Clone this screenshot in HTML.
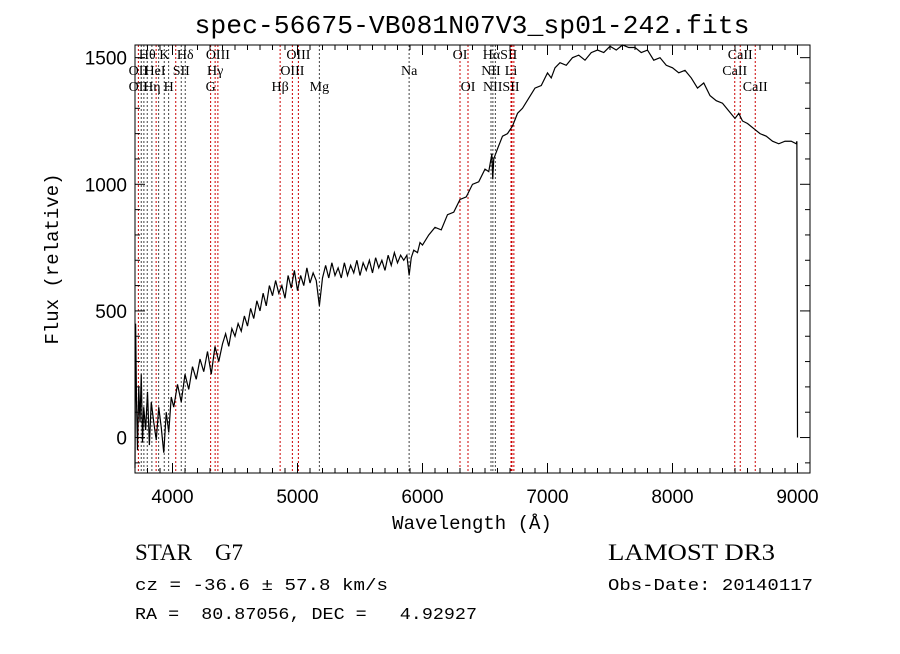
<!DOCTYPE html>
<html><head><meta charset="utf-8"><style>
body{margin:0;background:#fff;width:900px;height:649px;overflow:hidden}
svg text{fill:#000}
</style></head><body>
<svg id="c" width="900" height="649" viewBox="0 0 900 649" xmlns="http://www.w3.org/2000/svg">
<text x="472" y="33" font-family="Liberation Mono, monospace" font-size="26" text-anchor="middle" textLength="555" lengthAdjust="spacingAndGlyphs">spec-56675-VB081N07V3_sp01-242.fits</text>
<text transform="translate(58,259) rotate(-90)" font-family="Liberation Mono, monospace" font-size="19" text-anchor="middle">Flux (relative)</text>
<text x="472" y="529" font-family="Liberation Mono, monospace" font-size="19" text-anchor="middle">Wavelength (Å)</text>
<g id="lines"></g><g id="ax"></g><g id="spec"></g>
<text x="135" y="560" font-family="Liberation Serif, serif" font-size="23" xml:space="preserve" style="white-space:pre">STAR    G7</text>
<text x="135" y="590" font-family="Liberation Mono, monospace" font-size="17" textLength="253" lengthAdjust="spacingAndGlyphs">cz = -36.6 ± 57.8 km/s</text>
<text x="135" y="619" font-family="Liberation Mono, monospace" font-size="17" xml:space="preserve" style="white-space:pre" textLength="342" lengthAdjust="spacingAndGlyphs">RA =  80.87056, DEC =   4.92927</text>
<text x="608" y="560" font-family="Liberation Serif, serif" font-size="23" textLength="167" lengthAdjust="spacingAndGlyphs">LAMOST DR3</text>
<text x="608" y="590" font-family="Liberation Mono, monospace" font-size="17" textLength="205" lengthAdjust="spacingAndGlyphs">Obs-Date: 20140117</text>
</svg>
<script>
const wave=[3700,3705,3712,3720,3730,3740,3750,3760,3770,3785,3800,3815,3830,3850,3870,3890,3910,3930,3950,3970,3990,4010,4040,4070,4100,4130,4160,4190,4220,4250,4280,4310,4340,4370,4400,4425,4450,4475,4500,4525,4550,4575,4600,4625,4650,4675,4700,4725,4750,4775,4800,4825,4850,4875,4900,4925,4950,4975,5000,5025,5050,5075,5100,5125,5150,5175,5200,5225,5250,5275,5300,5325,5350,5375,5400,5425,5450,5475,5500,5525,5550,5575,5600,5625,5650,5675,5700,5725,5750,5775,5800,5825,5850,5875,5893,5910,5930,5960,5980,6000,6050,6100,6150,6200,6250,6300,6350,6400,6450,6500,6530,6555,6562,6570,6600,6640,6680,6720,6760,6800,6850,6900,6950,7000,7030,7060,7100,7150,7200,7250,7300,7350,7400,7450,7500,7550,7600,7650,7700,7750,7800,7850,7900,7950,8000,8050,8100,8150,8200,8250,8300,8350,8400,8450,8500,8530,8560,8600,8650,8700,8750,8800,8850,8900,8950,8990,8995,9000];
const flux=[-120,450,150,-50,200,60,250,-20,120,30,180,-30,140,60,-10,120,40,-60,100,20,160,120,210,140,250,190,280,230,310,260,340,250,360,300,370,410,360,430,400,450,420,480,440,510,470,540,500,570,520,600,560,620,570,600,550,640,590,660,580,640,600,670,610,650,620,520,630,680,630,690,640,670,630,690,640,680,650,700,640,690,660,700,650,710,670,700,660,720,680,730,690,720,700,720,640,710,740,730,770,760,800,830,820,880,890,940,950,1000,1010,1060,1050,1120,1020,1100,1140,1190,1200,1230,1280,1300,1340,1380,1390,1440,1420,1460,1480,1470,1500,1510,1490,1520,1530,1520,1545,1530,1550,1540,1540,1520,1530,1490,1500,1470,1460,1440,1450,1420,1380,1400,1350,1330,1320,1290,1260,1280,1250,1240,1220,1200,1190,1170,1160,1170,1170,1160,1170,0];
const lineWave=[3727,3750,3771,3798,3835,3869,3889,3934,3969,4026,4070,4102,4305,4341,4363,4861,4959,5007,5175,5893,6300,6364,6548,6563,6583,6708,6716,6731,8498,8542,8662];
const lineBlack=[0,1,1,1,1,0,1,1,1,0,1,1,0,0,0,0,0,0,1,1,0,0,1,1,1,0,0,0,0,0,0];
const labels=[["Hθ",3798,1],["K",3934,1],["Hδ",4102,1],["OIII",4363,1],["OIII",5007,1],["OI",6300,1],["HαSII",6620,1],["CaII",8542,1],["OII",3727,2],["HeI",3860,2],["SII",4070,2],["Hγ",4341,2],["OIII",4959,2],["Na",5893,2],["NII",6548,2],["Li",6708,2],["CaII",8498,2],["OII",3727,3],["Hη",3835,3],["H",3969,3],["G",4305,3],["Hβ",4861,3],["Mg",5175,3],["OI",6364,3],["NIISII",6630,3],["CaII",8662,3]];
const xTicks=[4000,5000,6000,7000,8000,9000];
const yTicks=[0,500,1000,1500];
const X0=135,X1=810,Y0=45,Y1=473,WMIN=3700,WMAX=9100,FMIN=-140,FMAX=1550;
const xs=w=>X0+(w-WMIN)*(X1-X0)/(WMAX-WMIN);
const ys=f=>Y1-(f-FMIN)*(Y1-Y0)/(FMAX-FMIN);
const NS="http://www.w3.org/2000/svg";
function mk(t,a,p){const e=document.createElementNS(NS,t);for(const k in a)e.setAttribute(k,a[k]);p.appendChild(e);return e;}
const gl=document.getElementById('lines'),ga=document.getElementById('ax'),gs=document.getElementById('spec');
lineWave.forEach((w,i)=>{const l=mk('line',{x1:xs(w),x2:xs(w),y1:Y0,y2:Y1,stroke:lineBlack[i]?'#444':'#c00','stroke-width':1,'stroke-dasharray':'2,2'},gl);

});
labels.forEach(([s,w,r])=>{const t=mk('text',{x:xs(w),y:Y0+16*r-2,'font-family':'Liberation Serif, serif','font-size':14,'text-anchor':'middle'},gl);t.textContent=s;

});
const fr=mk('rect',{x:X0,y:Y0,width:X1-X0,height:Y1-Y0,fill:'none',stroke:'#000','stroke-width':1},ga);


for(let w=3800;w<=9100;w+=100){const big=w%1000===0;const L=big?10:5;
mk('line',{x1:xs(w),x2:xs(w),y1:Y1,y2:Y1-L,stroke:'#000'},ga);mk('line',{x1:xs(w),x2:xs(w),y1:Y0,y2:Y0+L,stroke:'#000'},ga);}
xTicks.forEach(w=>{const t=mk('text',{x:xs(w),y:Y1+30,'font-family':'Liberation Sans, sans-serif','font-size':19,'text-anchor':'middle'},ga);t.textContent=w;

});
for(let f=-100;f<=1500;f+=100){const big=f%500===0;const L=big?10:5;
mk('line',{x1:X0,x2:X0+L,y1:ys(f),y2:ys(f),stroke:'#000'},ga);mk('line',{x1:X1,x2:X1-L,y1:ys(f),y2:ys(f),stroke:'#000'},ga);}
yTicks.forEach(f=>{const t=mk('text',{x:X0-8,y:ys(f)+7,'font-family':'Liberation Sans, sans-serif','font-size':19,'text-anchor':'end'},ga);t.textContent=f;

});
const p=mk('polyline',{points:wave.map((w,i)=>xs(w)+','+ys(flux[i])).join(' '),fill:'none',stroke:'#000','stroke-width':1.2},gs);


</script>
</body></html>
